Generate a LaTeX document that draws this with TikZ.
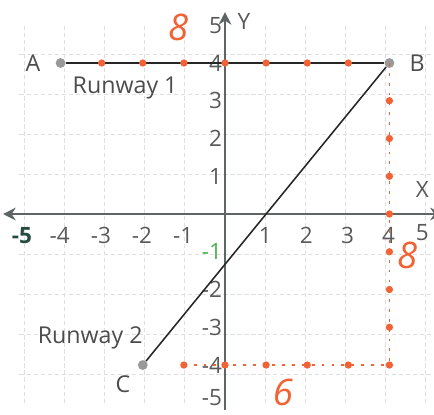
\documentclass[tikz,border=0pt]{standalone}
\usepackage{fontspec}
\setmainfont{Open Sans}
\usepackage{xcolor}
\usetikzlibrary{arrows.meta,positioning}

\definecolor{handred}{RGB}{242,98,52}
\definecolor{axisgray}{RGB}{95,100,100}
\definecolor{darkteal}{RGB}{40,75,65}

\begin{document}
\begin{tikzpicture}[
  x=1.0275cm, y=0.94375cm,
  gridline/.style={gray!25, densely dashed, line width=0.7pt},
  axisline/.style={axisgray, line width=1.8pt},
  pt/.style={circle, fill=gray!80, inner sep=0pt, minimum size=7pt},
  seg/.style={black!85, line width=1.1pt},
  txt/.style={font=\fontsize{16.5}{16.5}\selectfont, text=black!70},
  ticklab/.style={font=\fontsize{16}{16}\selectfont, text=black!65},
  hand/.style={text=handred, font=\fontsize{26}{26}\selectfont\itshape},
  redmark/.style={handred, line width=1.2pt, dash pattern=on 2pt off 5pt}
]
  \useasboundingbox (-5.474,-5.298) rectangle (5.085,5.669);

  % grid
  \draw[gridline] (-5,-5) grid (5,5);

  % axes
  \draw[axisline, -{Stealth[length=9pt,width=9pt]}] (0,-5.2) -- (0,5.35);
  \draw[axisline, {Stealth[length=9pt,width=9pt]}-{Stealth[length=9pt,width=9pt]}] (-5.4,0) -- (5.3,0);
  \node[ticklab] (ylab) at (0.46,5.09) {Y};
  \node[ticklab, anchor=east] (xlab) at (5.08,0.64) {X};

  % tick labels
  \foreach \i in {-4,-3,-2,-1,1,2,3,4}
    \node[ticklab] at (\i-0.02,-0.56) {\i};
  \node[ticklab, anchor=east] at (5.08,-0.5) {5};
  \node[ticklab, text=darkteal, font=\fontsize{16}{16}\selectfont\bfseries] at (-4.94,-0.56) {-5};
  \foreach \j in {5,4,3,2,1,-2,-3,-4}
    \node[ticklab, anchor=east] at (0.05,\j) {\j};
  \node[ticklab, anchor=east] at (0.05,-4.86) {-5};
  \node[ticklab, text=gray!60!green, anchor=east] at (0.05,-1) {-1};

  % runways
  \node[pt] (A) at (-4,4) {};
  \node[pt] (B) at (4,4) {};
  \node[pt] (C) at (-2,-4) {};
  \draw[seg] (A) -- (B);
  \draw[seg] (B) -- (C);
  \node[txt, left=0.25cm of A] (Alab) {A};
  \node[txt, right=0.25cm of B] (Blab) {B};
  \node[txt, below left=0.05cm and 0.1cm of C] (Clab) {C};
  \node[txt] (rw1) at (-2.43,3.34) {Runway 1};
  \node[txt] (rw2) at (-3.28,-3.28) {Runway 2};

  % handwritten counting
  \draw[redmark] (4,4) -- (4,-4);
  \draw[redmark] (-1,-4) -- (4,-4);
  \foreach \i in {-3,...,3}
    \fill[handred] (\i,4) circle (2.6pt);
  \foreach \j in {3,...,-4}
    \fill[handred] (4,\j) circle (2.6pt);
  \foreach \i in {-1,...,3}
    \fill[handred] (\i,-4) circle (2.6pt);
  \node[hand] (eightA) at (-1.14,4.93) {8};
  \node[hand] (eightB) at (4.43,-1.09) {8};
  \node[hand] (six) at (1.41,-4.72) {6};
\end{tikzpicture}
\end{document}
